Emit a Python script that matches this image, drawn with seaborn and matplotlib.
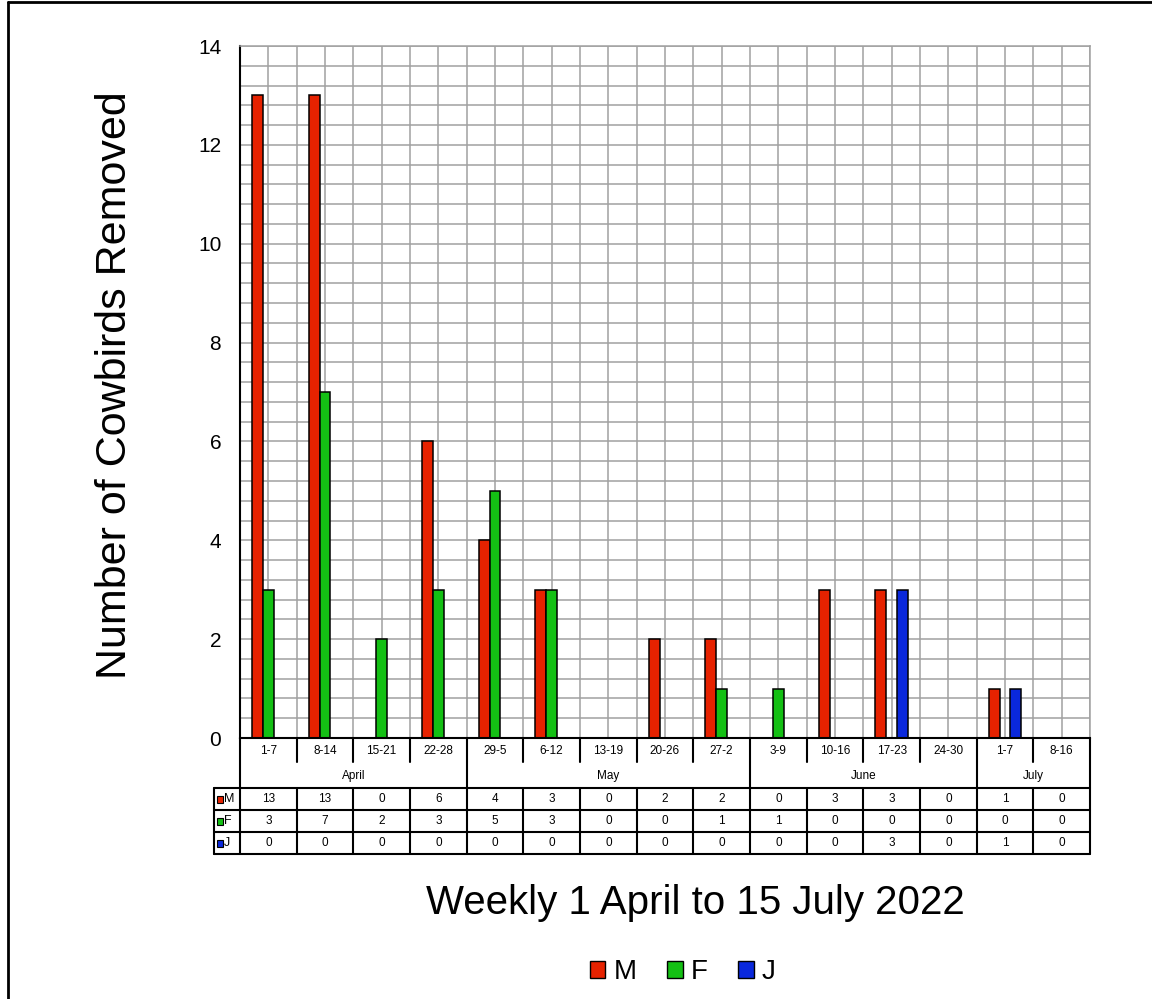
import matplotlib
matplotlib.use('Agg')
import matplotlib.pyplot as plt
import numpy as np
import pandas as pd
import seaborn as sns
from matplotlib.lines import Line2D
from matplotlib.patches import Rectangle
from matplotlib.ticker import MultipleLocator

weeks = ['1-7', '8-14', '15-21', '22-28', '29-5', '6-12', '13-19', '20-26',
         '27-2', '3-9', '10-16', '17-23', '24-30', '1-7', '8-16']
months = ['April', 'May', 'June', 'July']
month_weeks = [4, 5, 4, 2]
male = [13, 13, 0, 6, 4, 3, 0, 2, 2, 0, 3, 3, 0, 1, 0]
female = [3, 7, 2, 3, 5, 3, 0, 0, 1, 1, 0, 0, 0, 0, 0]
juvenile = [0, 0, 0, 0, 0, 0, 0, 0, 0, 0, 0, 3, 0, 1, 0]
series = ['M', 'F', 'J']
colors = ['#e62200', '#14c014', '#0a28dc']

W, H = 1152, 999

sns.set_style('white')
plt.rcParams['font.family'] = ['Liberation Sans', 'DejaVu Sans']
plt.rcParams['text.color'] = 'black'
plt.rcParams['xtick.color'] = 'black'
plt.rcParams['ytick.color'] = 'black'

# long table for seaborn, week index keeps duplicate labels apart
df = pd.DataFrame({
    'week': np.tile(np.arange(len(weeks)), 3),
    'count': male + female + juvenile,
    'sex': np.repeat(series, len(weeks)),
})

fig = plt.figure(figsize=(W / 100, H / 100), dpi=100)
ax = fig.add_axes([240 / W, 1 - 738 / H, 850 / W, 692 / H])

sns.barplot(data=df, x='week', y='count', hue='sex', hue_order=series,
            palette=colors, width=0.58, edgecolor='black', linewidth=1.1,
            saturation=1, ax=ax)
ax.get_legend().remove()

grid_c = '#a0a0a0'
ax.set_xlim(-0.5, len(weeks) - 0.5)
ax.set_ylim(0, 14)
ax.set_xticks(np.arange(len(weeks)))
ax.set_xticks(np.arange(len(weeks) + 1) - 0.5, minor=True)
ax.set_xticklabels([])
ax.yaxis.set_major_locator(MultipleLocator(2))
ax.yaxis.set_minor_locator(MultipleLocator(0.4))
ax.tick_params(axis='x', which='both', length=0)
ax.tick_params(axis='y', which='major', direction='inout', length=11,
               width=1.1, labelsize=15, pad=8, labelcolor='black')
ax.tick_params(axis='y', which='minor', length=0)
ax.grid(True, which='both', color=grid_c, linewidth=1.1)
ax.set_axisbelow(True)
ax.set_xlabel('')
ax.set_ylabel('')
for s in ['top', 'right']:
    ax.spines[s].set_color(grid_c)
    ax.spines[s].set_linewidth(1.1)
for s in ['left', 'bottom']:
    ax.spines[s].set_color('black')
    ax.spines[s].set_linewidth(1.5)

# table under the chart, y in pixel rows
tax = fig.add_axes([240 / W, 1 - 854 / H, 850 / W, 116 / H])
tax.set_xlim(-0.5, len(weeks) - 0.5)
tax.set_ylim(116, 0)
tax.axis('off')
px = 850 / len(weeks)
xl = -0.5 - 26 / px
lk = dict(color='black', linewidth=1.5, clip_on=False)
n = len(weeks)

for k in range(1, n):
    tax.plot([k - 0.5, k - 0.5], [0, 24], **lk)
tax.plot([-0.5, -0.5], [0, 50], **lk)
tax.plot([n - 0.5, n - 0.5], [0, 116], **lk)
edges = np.cumsum(month_weeks)
start = 0
for m, e in zip(months, edges):
    tax.text((start + e - 1) / 2, 38, m, ha='center', va='center', fontsize=8.5)
    if e < n:
        tax.plot([e - 0.5, e - 0.5], [24, 50], **lk)
    start = e
for k, w in enumerate(weeks):
    tax.text(k, 13, w, ha='center', va='center', fontsize=8.5)

for y in [50, 72, 94, 116]:
    tax.plot([xl, n - 0.5], [y, y], **lk)
tax.plot([xl, xl], [50, 116], **lk)
for k in range(n):
    tax.plot([k - 0.5, k - 0.5], [50, 116], **lk)

for r, (name, vals, c) in enumerate(zip(series, [male, female, juvenile], colors)):
    yc = 61 + 22 * r
    tax.add_patch(Rectangle((xl + 3 / px, yc - 3.5), 6 / px, 7, facecolor=c,
                            edgecolor='black', linewidth=0.8, clip_on=False))
    tax.text(xl + 10 / px, yc, name, ha='left', va='center', fontsize=9, clip_on=False)
    for k, v in enumerate(vals):
        tax.text(k, yc, str(v), ha='center', va='center', fontsize=8.5)

fig.text(115 / W, 1 - 385 / H, 'Number of Cowbirds Removed', rotation=90,
         ha='center', va='center', fontsize=31)
fig.text(695 / W, 1 - 903 / H, 'Weekly 1 April to 15 July 2022',
         ha='center', va='center', fontsize=29)

handles = [Rectangle((0, 0), 1, 1, facecolor=c, edgecolor='black', linewidth=1.0)
           for c in colors]
fig.legend(handles, series, loc='center', bbox_to_anchor=(683 / W, 1 - 972 / H),
           ncol=3, frameon=False, fontsize=20, handlelength=0.55,
           handleheight=0.55, handletextpad=0.3, columnspacing=1.1)

# outer frame
fig.add_artist(Line2D([7.5 / W, 7.5 / W], [0, 1 - 2 / H], color='black',
                      linewidth=2, transform=fig.transFigure))
fig.add_artist(Line2D([7.5 / W, 1], [1 - 2 / H, 1 - 2 / H], color='black',
                      linewidth=2, transform=fig.transFigure))

fig.savefig('out.png', dpi=100)
